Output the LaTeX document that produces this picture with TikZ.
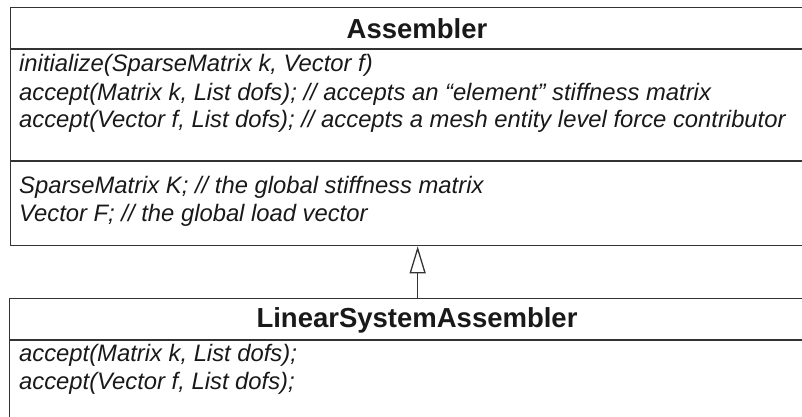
\documentclass[tikz,border=0pt]{standalone}
\usepackage{fontspec}
\setmainfont{Liberation Sans}
\usetikzlibrary{arrows.meta}
\begin{document}
\begin{tikzpicture}[x=1pt,y=-1pt,
  box/.style={draw=black!80, line width=1.3pt, anchor=north west, inner sep=0pt},
  sep/.style={draw=black!80, line width=1.3pt},
  title/.style={font=\fontsize{27.5}{31}\selectfont\bfseries, text=black!90, inner sep=0pt},
  member/.style={font=\fontsize{23.8}{28}\selectfont\itshape, anchor=base west, inner sep=0pt, text=black!90}]
\useasboundingbox (0,0) rectangle (802,417);
\node[box, minimum width=814pt, minimum height=238pt] (asm) at (10,7) {};
\node[box, minimum width=816pt, minimum height=140pt] (lsa) at (9,298) {};
\draw[sep] (10,49) -- (824,49);
\draw[sep] (10,161) -- (824,161);
\draw[sep] (9,340) -- (825,340);
\node[title] (asmname) at (417,29) {Assembler};
\node[title] (lsaname) at (417,320) {LinearSystemAssembler};
\node[member] (m1) at (19,72) {initialize(SparseMatrix k, Vector f)};
\node[member] (m2) at (19,100) {accept(Matrix k, List dofs); // accepts an “element” stiffness matrix};
\node[member] (m3) at (19,128) {accept(Vector f, List dofs); // accepts a mesh entity level force contributor};
\node[member] (a1) at (19,193) {SparseMatrix K; // the global stiffness matrix};
\node[member] (a2) at (19,221) {Vector F; // the global load vector};
\node[member] (l1) at (19,361) {accept(Matrix k, List dofs);};
\node[member] (l2) at (19,389) {accept(Vector f, List dofs);};
\draw[sep, -{Triangle[length=27pt, width=16pt, fill=white]}] (lsa.north) -- (asm.south);
\end{tikzpicture}
\end{document}
